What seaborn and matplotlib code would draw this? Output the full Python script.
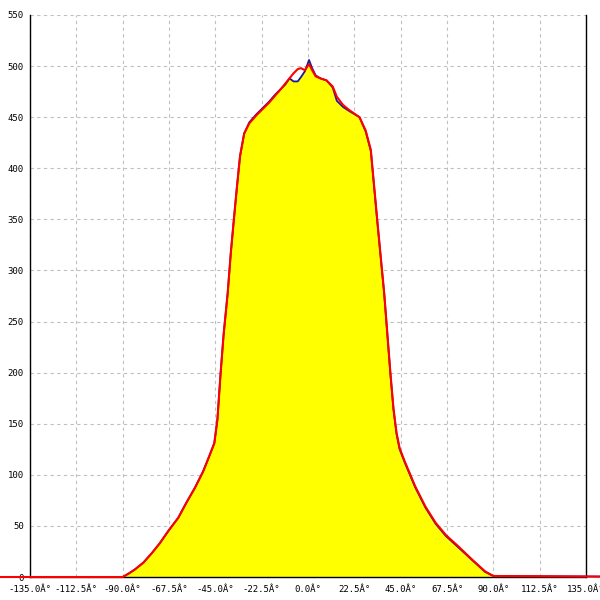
import numpy as np
import pandas as pd
import matplotlib
matplotlib.use("Agg")
import matplotlib.pyplot as plt
import seaborn as sns

# angle (degrees) and the two measured profiles
angle = [-180, -90, -87, -84, -80, -76, -72, -67.5, -63, -59, -55, -51, -48, -45.5,
         -44, -42.5, -41, -39, -37.5, -36, -34.5, -33, -31, -28.5, -25, -22, -19,
         -16, -13, -11, -9, -7, -5, -3.5, -1.5, 0.5, 2, 3.7, 6, 9, 12, 14, 17, 20,
         25, 28, 30.5, 32, 33.5, 35, 37, 38.5, 40, 41.5, 43, 44.5, 47, 52, 57, 62,
         67, 73, 80, 86, 90, 180]
red_vals = [0, 0, 3.5, 7.5, 14, 23, 33, 46, 58, 73, 87, 103, 118, 131,
            154, 198, 237, 278, 317, 350, 382, 412, 434, 444, 452, 458, 464,
            471, 478, 483, 488, 493, 497, 498, 496, 502, 496, 490, 488, 486, 480, 470, 462, 457,
            450, 437, 418, 385, 352, 320, 278, 239, 200, 165, 141, 126, 113, 89, 69, 53,
            41, 30, 16.5, 5.5, 1, 0]
blue_vals = [0, 0, 3.5, 7.5, 14, 23, 33, 46, 58, 73, 87, 103, 118, 131,
             154, 198, 237, 278, 317, 350, 382, 412, 434, 445, 453, 459, 465,
             472, 478, 482, 488, 485, 485, 489, 495, 506, 498, 491, 488, 486, 479, 466, 460, 456,
             450, 436, 417, 384, 351, 319, 277, 238, 199, 164, 140, 125, 112, 88, 68, 52,
             40, 29, 16, 5, 1, 0]

x_ticks = [-135 + 22.5 * i for i in range(13)]
x_labels = [f"{v:.1f}Â°" for v in x_ticks]
y_ticks = list(range(0, 551, 50))

df = pd.DataFrame({"angle": angle, "red": red_vals, "blue": blue_vals})

sns.set_style("white")
plt.rcParams['font.family'] = ['DejaVu Sans Mono', 'DejaVu Sans']

fig = plt.figure(figsize=(6, 6), dpi=100)
ax = fig.add_axes([0.05, 0.0383, 0.9267, 0.9367])

ax.fill_between(df["angle"], df["blue"], 0, color="#ffff00", linewidth=0, zorder=1)
sns.lineplot(data=df, x="angle", y="blue", ax=ax, color="#1a1aa0", linewidth=1.3, sort=False, zorder=3)
sns.lineplot(data=df, x="angle", y="red", ax=ax, color="#ff0000", linewidth=1.5, sort=False, zorder=4)
for line in ax.get_lines():
    line.set_clip_on(False)

ax.set_xlim(-135, 135)
ax.set_ylim(0, 550)
ax.set_xticks(x_ticks)
ax.set_xticklabels(x_labels)
ax.set_yticks(y_ticks)
ax.set_yticklabels([str(v) for v in y_ticks])
ax.set_xlabel("")
ax.set_ylabel("")

ax.grid(True, linestyle=(0, (3, 3)), color="#c0c0c0", linewidth=0.8, zorder=0)
ax.set_axisbelow(True)

for side in ["left", "bottom", "right"]:
    ax.spines[side].set_visible(True)
    ax.spines[side].set_color("black")
    ax.spines[side].set_linewidth(1.0)
ax.spines["top"].set_visible(False)

ax.tick_params(axis="both", direction="inout", length=5, width=1, color="black",
               labelsize=6.5, labelcolor="black")
ax.tick_params(axis="x", pad=3)
ax.tick_params(axis="y", pad=2)

fig.savefig("out.png", dpi=100)
